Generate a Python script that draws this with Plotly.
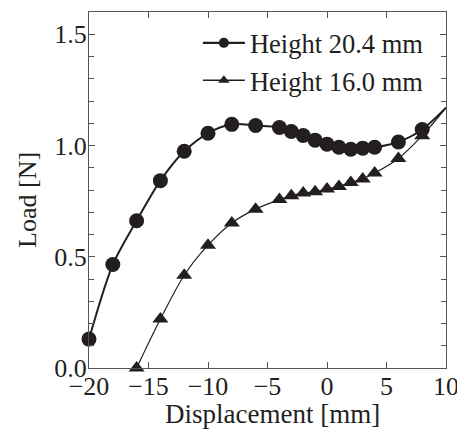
import plotly.graph_objects as go

# Data
disp_a = [-20, -18, -16, -14, -12, -10, -8, -6, -4, -3, -2, -1, 0, 1, 2, 3, 4, 6, 8]
load_a = [0.13, 0.465, 0.662, 0.842, 0.974, 1.055, 1.095, 1.09, 1.081, 1.063, 1.045,
          1.024, 1.006, 0.992, 0.983, 0.988, 0.992, 1.016, 1.072]
disp_b = [-16, -14, -12, -10, -8, -6, -4, -3, -2, -1, 0, 1, 2, 3, 4, 6, 8]
load_b = [0.0, 0.22, 0.417, 0.552, 0.652, 0.714, 0.757, 0.774, 0.786, 0.792, 0.804,
          0.816, 0.834, 0.85, 0.876, 0.942, 1.044]
# fitted curve end point (no marker)
end_disp = 10
end_load = 1.17

names = ["Height 20.4 mm", "Height 16.0 mm"]
x_title = "Displacement [mm]"
y_title = "Load [N]"
x_ticks = [-20, -15, -10, -5, 0, 5, 10]
y_ticks = [0.0, 0.5, 1.0, 1.5]

INK = "#231f20"
AX = "#555555"
FONT = "Liberation Serif"
FS = 26

fig = go.Figure()

series = [
    (disp_a, load_a, names[0], "circle", 2.0),
    (disp_b, load_b, names[1], "triangle-up", 1.2),
]
for xs, ys, nm, sym, lw in series:
    # fitted curve
    fig.add_trace(go.Scatter(
        x=xs + [end_disp], y=ys + [end_load], mode="lines", showlegend=False,
        line=dict(color=INK, width=lw, shape="spline", smoothing=0.8),
        hoverinfo="skip",
    ))
    # measured points
    fig.add_trace(go.Scatter(
        x=xs, y=ys, mode="markers", showlegend=False, name=nm,
        marker=dict(symbol=sym, color=INK, size=15 if sym == "circle" else 14,
                    opacity=1, line=dict(width=0)),
        cliponaxis=False,
    ))
    # legend entry
    fig.add_trace(go.Scatter(
        x=[None], y=[None], mode="lines+markers", name=nm,
        line=dict(color=INK, width=lw + 0.3),
        marker=dict(symbol=sym, color=INK, size=10, opacity=1, line=dict(width=0)),
    ))

axis_common = dict(
    showgrid=False, zeroline=False, showline=True, linecolor=AX, linewidth=1.2,
    mirror="ticks", ticks="inside", tickcolor=AX, ticklen=6, automargin=False,
    tickfont=dict(family=FONT, size=FS, color=INK),
)

fig.update_xaxes(range=[-20, 10], tickvals=x_ticks, ticklabelstandoff=-5, **axis_common)
fig.update_yaxes(
    range=[0, 1.6], tickvals=y_ticks, ticktext=[f"{v:.1f}" for v in y_ticks],
    minor=dict(dtick=0.1, ticks="inside", ticklen=5, tickcolor=AX),
    ticklabelstandoff=-4,
    **axis_common,
)

fig.add_annotation(text=x_title, xref="paper", yref="paper", x=0.515, y=-0.13,
                   xanchor="center", yanchor="middle", showarrow=False,
                   font=dict(family=FONT, size=27, color=INK))
fig.add_annotation(text=y_title, xref="paper", yref="paper", x=-0.171, y=0.472,
                   xanchor="center", yanchor="middle", showarrow=False, textangle=-90,
                   font=dict(family=FONT, size=FS, color=INK))

fig.update_layout(
    width=465, height=429,
    margin=dict(l=81, r=27, t=4, b=69),
    paper_bgcolor="white", plot_bgcolor="white",
    font=dict(family=FONT, size=FS, color=INK),
    legend=dict(x=0.305, xanchor="left", y=0.98, yanchor="top",
                bgcolor="rgba(0,0,0,0)", font=dict(family=FONT, size=26.5, color=INK),
                itemwidth=42, tracegroupgap=0),
    showlegend=True,
)

fig.write_html("out.html")
